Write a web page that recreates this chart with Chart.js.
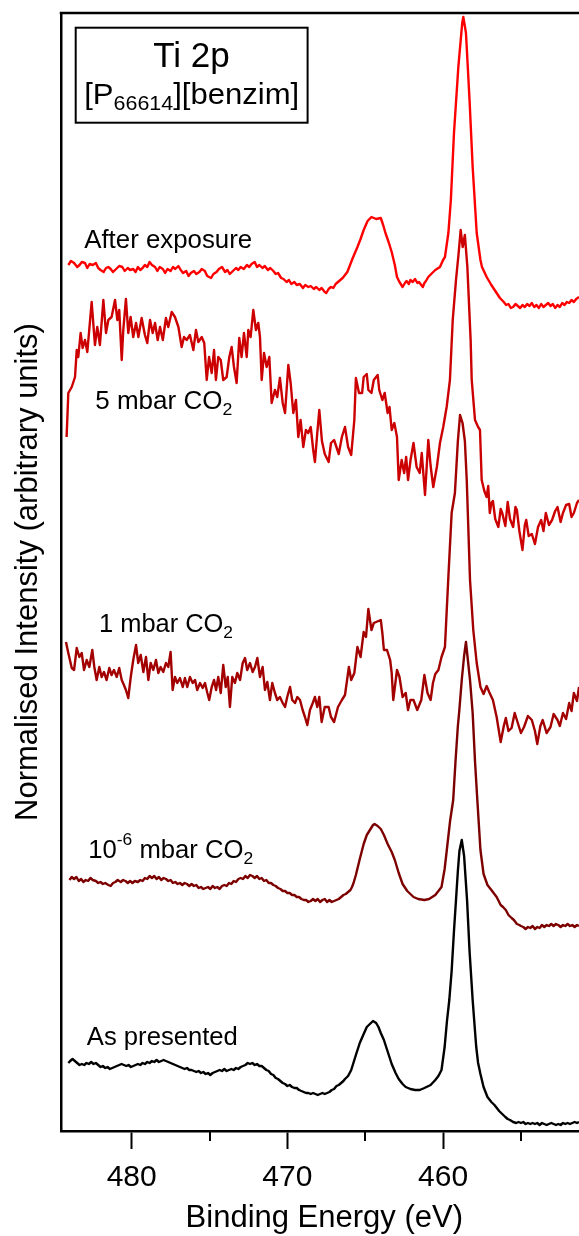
<!DOCTYPE html>
<html>
<head>
<meta charset="utf-8">
<title>Ti 2p XPS spectra</title>
<style>
  html, body { margin: 0; padding: 0; background: #ffffff; overflow: hidden; }
  #wrap { position: relative; width: 579px; height: 1236px; }
  canvas { display: block; }
</style>
<script src="https://cdn.jsdelivr.net/npm/chart.js@4/dist/chart.umd.min.js"></script>
</head>
<body>
<div id="wrap"><canvas id="xps" width="579" height="1236"></canvas></div>
<script>
// ---- Spectra: binding energy (eV) and offset normalised intensity (arb. units) ----
const asPresentedEnergy = [484.07,483.95,483.8,483.65,483.5,483.35,483.2,483.05,482.9,482.75,482.6,482.45,482.3,482.15,482.0,481.85,481.7,481.55,481.4,481.25,481.1,480.95,480.8,480.65,480.5,480.35,480.2,480.05,479.9,479.75,479.6,479.45,479.3,479.15,479.0,478.85,478.7,478.55,478.4,478.25,478.1,477.95,477.8,477.65,477.5,477.35,477.2,477.05,476.9,476.75,476.6,476.45,476.3,476.15,476.0,475.85,475.7,475.55,475.4,475.25,475.1,474.95,474.8,474.65,474.5,474.35,474.2,474.05,473.9,473.75,473.6,473.45,473.3,473.15,473.0,472.85,472.7,472.55,472.4,472.25,472.1,471.95,471.8,471.65,471.5,471.35,471.2,471.05,470.9,470.75,470.6,470.45,470.3,470.15,470.0,469.85,469.7,469.55,469.4,469.25,469.1,468.95,468.8,468.65,468.5,468.35,468.2,468.05,467.9,467.75,467.6,467.45,467.3,467.15,467.0,466.85,466.7,466.55,466.4,466.3,466.1,465.9,465.6,465.35,465.1,464.9,464.7,464.5,464.3,464.15,464.0,463.8,463.55,463.3,463.05,462.85,462.6,462.4,462.1,461.8,461.5,461.2,460.8,460.5,460.3,460.1,459.9,459.75,459.6,459.45,459.3,459.17,459.05,458.95,458.8,458.65,458.46,458.3,458.1,457.95,457.87,457.75,457.6,457.4,457.15,456.9,456.7,456.4,456.2,456.0,455.85,455.7,455.5,455.3,455.15,455.0,454.85,454.7,454.55,454.4,454.25,454.1,453.95,453.8,453.65,453.5,453.35,453.2,453.05,452.9,452.75,452.6,452.45,452.3,452.15,452.0,451.85,451.7,451.55,451.4,451.27];
const asPresentedIntensity = [68,70,72,70,68,66,67,66,68,67,69,67,68,66,64,65,63,64,62,63,64,65,66,67,66,65,66,64,65,66,67,66,68,67,69,68,70,69,71,69,70,71,70,69,68,67,66,65,64,63,62,63,61,61,60,59,60,58,59,57,58,56,58,59,60,61,60,62,60,61,62,61,63,62,64,65,66,68,67,68,66,67,65,65,63,61,60,57,56,53,52,50,48,47,45,46,44,43,43,41,40,39,38,38,37,38,37,36,37,38,37,38,39,41,42,45,46,48,50,52,55,61,76,88,97,104,107,110,108,104,98,91,79,67,58,52,47,44,42,41,41,43,46,51,55,61,84,110,131,160,200,231,260,280,291,275,231,180,131,100,84,68,57,44,34,29,26,20,17,14,12,11,9,8,9,8,9,7,8,7,8,7,8,6,8,7,6,7,8,7,6,7,6,8,7,8,7,8,9,8,9];

const uhvCo2Energy = [484.0,483.85,483.7,483.55,483.4,483.25,483.1,482.95,482.8,482.65,482.5,482.3,482.15,482.0,481.85,481.7,481.5,481.35,481.2,481.05,480.9,480.7,480.55,480.4,480.25,480.1,479.95,479.8,479.6,479.45,479.3,479.15,479.0,478.85,478.7,478.55,478.4,478.25,478.1,477.95,477.8,477.65,477.5,477.35,477.2,477.05,476.9,476.75,476.6,476.45,476.3,476.15,476.0,475.85,475.7,475.55,475.4,475.25,475.1,474.95,474.8,474.65,474.5,474.35,474.2,474.05,473.9,473.75,473.6,473.45,473.3,473.15,473.0,472.85,472.7,472.55,472.4,472.25,472.1,471.95,471.8,471.65,471.5,471.35,471.2,471.05,470.9,470.75,470.6,470.45,470.3,470.15,470.0,469.85,469.7,469.55,469.4,469.25,469.1,468.95,468.8,468.65,468.5,468.35,468.2,468.05,467.9,467.75,467.6,467.45,467.3,467.15,467.0,466.85,466.7,466.55,466.4,466.25,466.1,465.95,465.85,465.75,465.6,465.35,465.1,464.9,464.7,464.5,464.4,464.2,464.0,463.8,463.56,463.3,463.1,462.85,462.6,462.3,461.9,461.6,461.2,460.9,460.5,460.3,460.1,459.9,459.76,459.55,459.35,459.2,459.05,458.96,458.8,458.65,458.53,458.4,458.27,458.1,457.95,457.8,457.6,457.4,457.15,456.9,456.56,456.3,456.15,455.97,455.8,455.6,455.45,455.26,455.1,455.0,454.85,454.7,454.55,454.4,454.25,454.1,453.95,453.8,453.65,453.5,453.35,453.2,453.05,452.9,452.75,452.6,452.45,452.3,452.15,452.0,451.85,451.7,451.55,451.4,451.27];
const uhvCo2Intensity = [251,254,252,254,250,252,249,251,250,253,251,250,248,249,247,248,246,245,248,249,251,249,251,250,248,250,248,250,249,251,250,253,252,255,253,255,252,254,251,253,252,250,251,248,249,247,248,246,248,247,245,247,245,246,243,244,242,243,244,242,245,243,244,242,245,246,245,248,247,250,249,252,253,252,255,253,256,255,253,255,252,253,250,251,248,248,246,245,243,242,240,240,238,238,236,236,234,234,232,231,231,229,230,232,230,232,229,231,232,229,231,229,230,231,232,234,236,237,239,241,244,248,256,272,287,296,301,306,307,305,302,296,287,279,271,258,247,240,234,232,231,232,236,240,244,262,281,310,331,370,405,420,451,475,489,470,451,418,370,331,281,257,246,241,234,226,224,221,216,213,211,207,206,205,204,202,204,203,205,202,204,203,206,204,206,205,207,205,207,206,204,206,205,207,205,206,204,206,205];

const oneMbarEnergy = [484.22,484.07,483.85,483.7,483.53,483.36,483.21,483.06,482.89,482.72,482.53,482.4,482.25,482.08,481.93,481.78,481.61,481.44,481.29,481.14,480.96,480.8,480.64,480.5,480.37,480.22,480.06,479.9,479.72,479.58,479.42,479.25,479.08,478.93,478.78,478.61,478.44,478.29,478.14,477.97,477.8,477.65,477.5,477.37,477.22,477.07,476.9,476.72,476.58,476.43,476.26,476.08,475.93,475.79,475.61,475.44,475.29,475.14,475.02,474.86,474.71,474.58,474.44,474.28,474.12,473.96,473.83,473.69,473.54,473.37,473.22,473.04,472.87,472.72,472.58,472.4,472.23,472.08,471.93,471.76,471.59,471.44,471.29,471.12,470.97,470.8,470.65,470.48,470.3,470.15,470.01,469.83,469.69,469.51,469.36,469.19,469.02,468.87,468.72,468.55,468.37,468.23,468.08,467.95,467.8,467.6,467.35,467.2,467.0,466.75,466.5,466.3,466.05,465.9,465.7,465.5,465.3,465.1,464.95,464.8,464.6,464.45,464.3,464.0,463.9,463.8,463.6,463.4,463.3,463.2,462.96,462.8,462.6,462.4,462.25,462.1,461.9,461.66,461.4,461.2,461.0,460.8,460.65,460.5,460.3,460.1,459.88,459.67,459.45,459.24,459.05,458.91,458.75,458.6,458.48,458.27,458.06,457.84,457.6,457.4,457.2,457.04,456.8,456.56,456.3,456.1,455.97,455.8,455.6,455.4,455.26,455.0,454.8,454.55,454.3,454.1,453.95,453.75,453.6,453.35,453.1,452.9,452.65,452.5,452.3,452.1,451.9,451.75,451.6,451.4,451.27];
const oneMbarIntensity = [489,478,463,461,483,474,478,461,471,464,481,464,451,464,454,459,451,463,456,461,454,463,451,446,441,433,454,471,486,468,476,459,474,451,468,461,471,458,464,459,468,464,479,441,454,448,453,444,453,444,454,448,451,441,448,443,448,438,431,444,451,441,454,438,466,444,454,424,454,448,458,451,468,473,461,468,459,464,473,454,464,441,449,431,448,438,431,434,428,424,434,444,431,428,434,431,421,414,406,421,428,434,424,434,409,424,424,414,409,424,431,436,464,451,458,484,474,499,494,522,501,508,509,511,498,481,481,471,458,431,461,454,434,438,421,431,431,421,431,456,438,431,448,457,461,474,484,551,618,638,690,716,708,690,651,551,501,468,444,437,445,439,431,414,389,405,413,400,403,418,411,398,404,415,411,400,387,405,411,398,404,417,411,405,418,412,428,420,438,430,444];

const fiveMbarEnergy = [484.18,484.07,483.85,483.64,483.53,483.43,483.28,483.15,483.0,482.85,482.57,482.36,482.21,482.04,481.82,481.65,481.5,481.29,481.07,480.92,480.8,480.64,480.54,480.37,480.22,480.07,479.9,479.72,479.57,479.36,479.15,479.0,478.82,478.65,478.5,478.33,478.18,478.0,477.8,477.65,477.43,477.22,477.0,476.79,476.64,476.47,476.26,476.04,475.87,475.72,475.5,475.34,475.18,475.03,474.86,474.71,474.59,474.44,474.28,474.12,473.9,473.73,473.58,473.43,473.26,473.09,472.94,472.79,472.61,472.51,472.36,472.19,472.02,471.87,471.76,471.65,471.5,471.33,471.16,471.01,470.8,470.65,470.48,470.3,470.15,469.94,469.79,469.62,469.45,469.3,469.15,468.98,468.81,468.66,468.5,468.34,468.23,468.08,467.95,467.78,467.6,467.35,467.2,467.0,466.7,466.5,466.3,466.1,465.9,465.7,465.6,465.4,465.2,465.1,464.9,464.8,464.6,464.45,464.2,464.1,463.9,463.75,463.56,463.44,463.3,463.13,462.96,462.85,462.66,462.5,462.37,462.25,462.09,461.9,461.7,461.5,461.37,461.16,460.95,460.8,460.63,460.4,460.2,459.99,459.77,459.56,459.38,459.17,459.0,458.87,458.74,458.6,458.44,458.23,458.16,457.95,457.75,457.63,457.52,457.35,457.2,457.1,457.0,456.9,456.8,456.65,456.45,456.3,456.2,456.0,455.85,455.7,455.5,455.35,455.26,455.1,454.9,454.75,454.66,454.5,454.3,454.1,453.9,453.7,453.55,453.4,453.2,453.0,452.8,452.65,452.45,452.3,452.1,451.9,451.75,451.6,451.4,451.27];
const fiveMbarIntensity = [694,738,744,754,781,774,798,783,791,779,829,786,804,786,831,798,811,814,831,811,821,771,801,832,798,814,794,808,794,813,796,788,811,798,808,791,804,791,813,804,819,814,804,784,794,791,796,781,801,789,794,788,751,774,758,781,751,774,771,751,754,774,784,764,748,793,774,798,774,801,794,821,801,808,794,751,778,764,774,728,741,734,753,728,718,766,748,718,731,694,711,684,701,698,704,681,669,698,721,690,677,669,688,691,677,694,704,684,676,711,753,738,738,754,757,741,738,751,756,741,731,738,718,724,701,708,694,651,671,658,674,651,671,688,664,658,678,636,691,665,644,664,688,704,724,751,811,851,878,901,884,896,864,791,751,711,704,701,651,640,634,645,618,628,630,612,604,622,618,605,629,612,604,624,621,600,581,606,611,595,597,587,604,611,600,618,606,611,620,624,609,618,626,627,614,618,628,631];

const afterExposureEnergy = [484.07,483.9,483.7,483.5,483.35,483.2,483.0,482.85,482.7,482.5,482.3,482.15,482.0,481.8,481.65,481.5,481.35,481.2,481.0,480.8,480.6,480.45,480.25,480.1,479.9,479.75,479.6,479.45,479.3,479.15,479.0,478.85,478.7,478.5,478.35,478.2,478.0,477.85,477.7,477.5,477.35,477.2,477.0,476.85,476.7,476.5,476.35,476.2,476.0,475.85,475.65,475.5,475.3,475.15,474.9,474.75,474.55,474.4,474.2,474.0,473.85,473.7,473.5,473.3,473.15,473.0,472.8,472.6,472.45,472.3,472.1,471.95,471.8,471.6,471.45,471.25,471.1,470.9,470.75,470.6,470.4,470.25,470.05,469.9,469.75,469.55,469.4,469.2,469.0,468.85,468.65,468.5,468.3,468.15,467.95,467.8,467.6,467.5,467.35,467.2,467.05,466.9,466.75,466.6,466.45,466.3,466.15,466.05,465.8,465.5,465.3,465.1,464.85,464.6,464.3,464.0,463.85,463.7,463.5,463.3,463.1,462.96,462.8,462.6,462.45,462.35,462.2,462.1,461.95,461.8,461.65,461.55,461.4,461.3,461.2,461.1,460.95,460.7,460.5,460.2,460.0,459.88,459.66,459.5,459.3,459.02,458.77,458.7,458.53,458.3,458.1,457.84,457.6,457.5,457.2,456.9,456.56,456.35,456.1,455.95,455.8,455.65,455.5,455.35,455.2,455.05,454.9,454.75,454.6,454.45,454.3,454.15,454.0,453.85,453.7,453.55,453.4,453.25,453.1,452.95,452.8,452.65,452.5,452.35,452.2,452.05,451.9,451.75,451.6,451.45,451.27];
const afterExposureIntensity = [866,870,868,864,866,869,868,863,867,866,868,863,861,859,863,864,862,859,862,865,864,860,863,861,862,859,864,861,863,866,864,869,866,864,860,864,862,858,862,860,864,862,865,861,858,860,855,858,860,857,859,862,860,855,853,857,859,862,864,859,861,857,860,863,861,864,862,866,864,867,869,864,866,863,865,861,863,860,857,858,853,852,849,851,847,849,846,847,843,846,844,845,842,844,841,843,839,838,842,844,843,847,849,851,853,856,859,863,873,884,892,901,910,914,912,913,906,898,889,879,866,854,849,844,848,850,847,851,849,852,848,849,846,844,848,850,854,858,861,864,871,874,898,931,998,1064,1108,1114,1098,1031,964,898,871,864,854,846,838,833,829,826,827,823,824,827,825,823,826,824,827,825,828,824,826,823,827,824,826,828,825,827,823,826,824,828,826,829,828,831,829,832,834];

// ---- Axis ticks ----
const energyMin = 451.27;
const energyMax = 484.54;
const majorTicks = [480, 470, 460];
const minorTicks = [475, 465, 455];

// ---- Series names, as written beside each trace ----
const seriesNames = ['As presented', '10-6 mbar CO2', '1 mbar CO2', '5 mbar CO2', 'After exposure'];
const seriesColours = ['#000000', '#7d0000', '#a30000', '#cc0000', '#ff0000'];

const FONT = '"Liberation Sans", Arial, Helvetica, sans-serif';

function points(xs, ys) { return xs.map((x, i) => ({ x: x, y: ys[i] })); }

const spectra = [
  points(asPresentedEnergy, asPresentedIntensity),
  points(uhvCo2Energy, uhvCo2Intensity),
  points(oneMbarEnergy, oneMbarIntensity),
  points(fiveMbarEnergy, fiveMbarIntensity),
  points(afterExposureEnergy, afterExposureIntensity)
];

// Trace labels: anchored in data space (left edge energy, baseline intensity)
const traceLabels = [
  { at: [483.05, 883], width: 168, parts: [{ t: 'After exposure' }] },
  { at: [482.34, 722], width: 137, parts: [{ t: '5 mbar CO' }, { t: '2', sub: true }] },
  { at: [482.10, 499], width: 134, parts: [{ t: '1 mbar CO' }, { t: '2', sub: true }] },
  { at: [482.79, 273.5], width: 165, parts: [{ t: '10' }, { t: '-6', sup: true }, { t: ' mbar CO' }, { t: '2', sub: true }] },
  { at: [482.88, 86], width: 151, parts: [{ t: 'As presented' }] }
];

// Draws a run of text pieces (with sub/superscripts), stretched to a given width
function drawRichText(ctx, parts, x, y, size, smallSize, width, subDrop, supRise) {
  let natural = 0;
  parts.forEach(p => {
    ctx.font = ((p.sub || p.sup) ? smallSize : size) + 'px ' + FONT;
    natural += ctx.measureText(p.t).width;
  });
  const sx = width ? width / natural : 1;
  ctx.save();
  ctx.translate(x, y);
  ctx.scale(sx, 1);
  ctx.fillStyle = '#000';
  ctx.textBaseline = 'alphabetic';
  ctx.textAlign = 'left';
  let cx = 0;
  parts.forEach(p => {
    ctx.font = ((p.sub || p.sup) ? smallSize : size) + 'px ' + FONT;
    const dy = p.sub ? subDrop : (p.sup ? -supRise : 0);
    ctx.fillText(p.t, cx, dy);
    cx += ctx.measureText(p.t).width;
  });
  ctx.restore();
}

const decorations = {
  id: 'decorations',
  afterDraw(chart) {
    const { ctx, chartArea, scales } = chart;
    const xs = scales.x, ys = scales.y;
    ctx.save();
    // top frame line
    ctx.strokeStyle = '#000';
    ctx.lineWidth = 2.5;
    ctx.beginPath();
    ctx.moveTo(chartArea.left - 1.25, chartArea.top);
    ctx.lineTo(chartArea.right, chartArea.top);
    ctx.stroke();
    // short minor ticks below the energy axis
    ctx.lineWidth = 2;
    minorTicks.forEach(v => {
      const px = Math.round(xs.getPixelForValue(v));
      ctx.beginPath();
      ctx.moveTo(px, chartArea.bottom);
      ctx.lineTo(px, chartArea.bottom + 10);
      ctx.stroke();
    });
    // sample box in the upper-left corner
    ctx.lineWidth = 2;
    ctx.strokeRect(75.7, 27.7, 231.9, 95);
    ctx.fillStyle = '#000';
    ctx.font = '35px ' + FONT;
    ctx.textAlign = 'center';
    ctx.textBaseline = 'alphabetic';
    ctx.fillText('Ti 2p', 191.5, 66.7);
    drawRichText(ctx, [{ t: '[P' }, { t: '66614', sub: true }, { t: '][benzim]' }], 84.2, 104, 29, 20, 215, 6, 0);
    // trace labels
    traceLabels.forEach(l => {
      const px = xs.getPixelForValue(l.at[0]);
      const py = ys.getPixelForValue(l.at[1]);
      drawRichText(ctx, l.parts, px, py, 25, 17, l.width, 6, 13);
    });
    ctx.restore();
  }
};

new Chart(document.getElementById('xps'), {
  type: 'line',
  data: {
    datasets: spectra.map((d, i) => ({
      label: seriesNames[i],
      data: d,
      borderColor: seriesColours[i],
      backgroundColor: seriesColours[i],
      borderWidth: 2.4,
      borderJoinStyle: 'round',
      pointRadius: 0,
      tension: 0,
      fill: false
    }))
  },
  options: {
    responsive: false,
    animation: false,
    devicePixelRatio: 1,
    layout: { padding: { top: 13, left: 0, right: 0, bottom: 0 } },
    plugins: { legend: { display: false }, tooltip: { enabled: false } },
    scales: {
      x: {
        type: 'linear',
        reverse: true,
        min: energyMin,
        max: energyMax,
        afterFit(scale) { scale.height = 105; },
        afterBuildTicks(scale) {
          scale.ticks = majorTicks.concat(minorTicks).sort((a, b) => a - b).map(v => ({ value: v }));
        },
        ticks: {
          autoSkip: false,
          maxRotation: 0,
          padding: 11,
          color: '#000',
          font: { family: FONT, size: 30, lineHeight: 1.2 },
          callback: v => (majorTicks.includes(v) ? String(v) : '')
        },
        grid: {
          display: true,
          drawOnChartArea: false,
          drawTicks: true,
          tickLength: 18,
          tickWidth: 2,
          tickColor: c => (c.tick && majorTicks.includes(c.tick.value) ? '#000' : 'rgba(0,0,0,0)')
        },
        border: { display: true, color: '#000', width: 2.5 },
        title: {
          display: true,
          text: ' Binding Energy (eV)',
          color: '#000',
          font: { family: FONT, size: 31, lineHeight: 1 },
          padding: { top: 0, bottom: 2 }
        }
      },
      y: {
        type: 'linear',
        min: 0,
        max: 1118,
        afterFit(scale) { scale.width = 61; },
        ticks: { display: false },
        grid: { display: false },
        border: { display: true, color: '#000', width: 2.5 },
        title: {
          display: true,
          text: 'Normalised Intensity (arbitrary units)',
          color: '#000',
          font: { family: FONT, size: 31, lineHeight: 1 },
          padding: { top: 13, bottom: 0 }
        }
      }
    }
  },
  plugins: [decorations]
});
</script>
</body>
</html>
